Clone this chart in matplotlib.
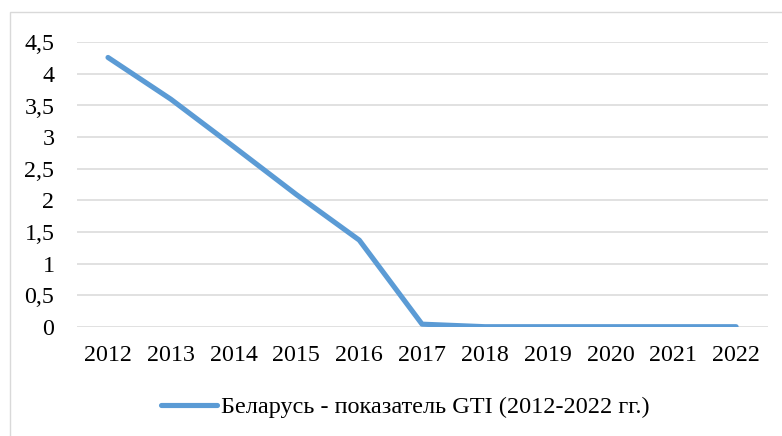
import matplotlib
matplotlib.use("Agg")
import matplotlib.pyplot as plt
from matplotlib.patches import Rectangle

years = ["2012", "2013", "2014", "2015", "2016", "2017", "2018", "2019", "2020", "2021", "2022"]
gti = [4.26, 3.6, 2.85, 2.09, 1.37, 0.04, 0.0, 0.0, 0.0, 0.0, 0.0]
y_ticks = [0, 0.5, 1, 1.5, 2, 2.5, 3, 3.5, 4, 4.5]
y_labels = ["0", "0,5", "1", "1,5", "2", "2,5", "3", "3,5", "4", "4,5"]
series_label = "Беларусь - показатель GTI (2012-2022 гг.)"

plt.rcParams['font.family'] = ['Liberation Serif', 'DejaVu Serif']

W, H = 782, 436
fig = plt.figure(figsize=(W / 100, H / 100), dpi=100)
fig.patch.set_facecolor("white")

# chart border
fig.patches.append(Rectangle((10 / W, -0.1), 1.2, (H - 12) / H + 0.1, transform=fig.transFigure,
                             fill=False, edgecolor="#D9D9D9", linewidth=1.0, zorder=0))

left, right = 76.6 / W, 767.5 / W
bottom, top = 1 - 326.7 / H, 1 - 42.3 / H
ax = fig.add_axes([left, bottom, right - left, top - bottom])

x = list(range(len(years)))
line, = ax.plot(x, gti, color="#5B9BD5", linewidth=3.7, solid_capstyle="round",
                solid_joinstyle="round", label=series_label, zorder=3)

ax.set_xlim(-0.5, len(years) - 0.5)
ax.set_ylim(0, 4.5)
ax.set_yticks(y_ticks)
ax.set_yticklabels(y_labels)
ax.set_xticks(x)
ax.set_xticklabels(years)
ax.grid(axis="y", color="#D9D9D9", linewidth=1.1)
ax.set_axisbelow(True)
for s in ax.spines.values():
    s.set_visible(False)
ax.tick_params(axis="both", length=0, labelsize=17.3, colors="black")
ax.tick_params(axis="y", pad=16)
ax.tick_params(axis="x", pad=13)

fig.legend(handles=[line], labels=[series_label], loc="center",
           bbox_to_anchor=(405.5 / W, 1 - 407 / H), frameon=False, fontsize=17.5,
           handlelength=2.3, handletextpad=0.15)

fig.savefig("out.png", dpi=100, facecolor="white")
